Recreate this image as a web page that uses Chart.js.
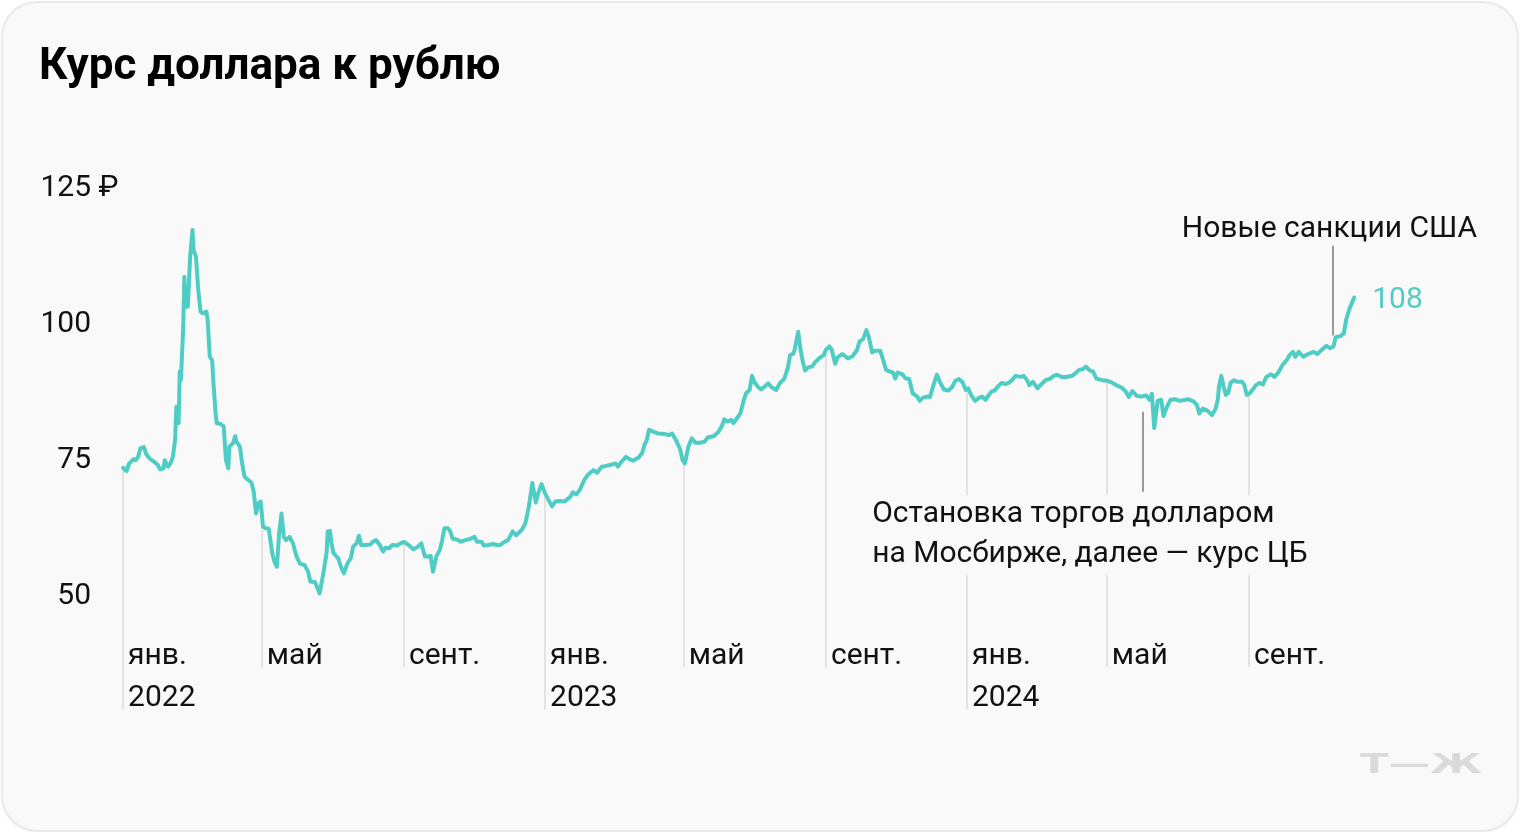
<!DOCTYPE html>
<html lang="ru">
<head>
<meta charset="utf-8">
<title>Курс доллара к рублю</title>
<script src="https://cdn.jsdelivr.net/npm/chart.js@4.4.1/dist/chart.umd.min.js"></script>
<style>
  html, body { margin: 0; padding: 0; background: #fff; }
  #card { position: absolute; left: 1px; top: 1px; width: 1514px; height: 827px;
          border: 2px solid #e9e9e9; border-radius: 36px; background: #f9f9f9; }
  #chart { position: absolute; left: 0; top: 0; }
  #logo { position: absolute; left: 1360px; top: 748px; font: bold 27px "DejaVu Sans";
          color: #dadada; transform: scaleX(1.55); transform-origin: left top; }
</style>
</head>
<body>
<div id="card"></div>
<canvas id="chart" width="1520" height="834"></canvas>
<div id="logo">Т—Ж</div>
<script>
// days: дней от 1 января 2022, rates: рублей за доллар
const days = [
  0, 3, 5, 9, 11, 13, 15, 18, 20, 23,
  27, 30, 32, 35, 36, 39, 41, 43, 45, 46,
  48, 49, 50, 52, 53, 54, 56, 58, 60,
  61, 63, 65, 67, 69, 72, 73, 75, 77, 78,
  80, 81, 84, 87, 89, 91, 92, 95, 97, 98,
  101, 103, 105, 108, 111, 113, 115, 117, 119, 121,
  123, 126, 129, 131, 133, 135, 137, 139, 141, 144,
  147, 150, 153, 157, 160, 162, 166, 170, 173, 176,
  177, 179, 180, 182, 186, 189, 191, 194, 197, 199,
  202, 204, 206, 209, 214, 216, 219, 222, 225, 227,
  230, 233, 237, 240, 243, 247, 251, 255, 258, 261,
  264, 266, 268, 271, 274, 276, 278, 281, 283, 285,
  290, 292, 296, 300, 304, 306, 310, 312, 316, 320,
  323, 326, 330, 333, 337, 340, 345, 348, 351, 354,
  357, 359, 362, 365, 368, 371, 374, 378, 382, 387,
  389, 392, 395, 399, 402, 407, 410, 414, 417, 421,
  426, 428, 431, 435, 438, 441, 446, 449, 451, 453,
  455, 459, 463, 469, 472, 475, 479, 482, 484, 486,
  489, 492, 495, 499, 503, 506, 511, 515, 518, 520,
  523, 526, 528, 531, 534, 537, 539, 542, 544, 546,
  549, 552, 558, 561, 565, 568, 572, 575, 577, 580,
  581, 584, 586, 588, 590, 593, 596, 599, 602, 606,
  608, 611, 613, 616, 618, 622, 624, 627, 631, 635,
  637, 640, 643, 645, 648, 650, 655, 658, 660, 663,
  666, 668, 670, 674, 677, 680, 683, 687, 689, 692,
  696, 698, 701, 704, 707, 710, 714, 717, 720, 723,
  726, 729, 731, 734, 737, 740, 743, 746, 748, 751,
  754, 757, 760, 763, 766, 769, 772, 776, 779, 782,
  784, 787, 791, 795, 798, 802, 805, 808, 812, 816,
  821, 824, 827, 830, 833, 836, 839, 842, 847, 851,
  855, 859, 864, 867, 870, 873, 877, 881, 885, 888,
  890, 892, 895, 898, 900, 903, 906, 910, 914, 919,
  921, 926, 929, 931, 934, 938, 942, 945, 947, 948,
  950, 952, 954, 956, 958, 961, 964, 968, 970, 972,
  974, 977, 980, 983, 986, 989, 993, 996, 999, 1003,
  1007, 1009, 1012, 1014, 1017, 1021, 1025, 1030, 1033, 1037,
  1041, 1044, 1047, 1049, 1053, 1056, 1058, 1061, 1065
];
const rates = [
  73.2, 72.6, 73.9, 74.8, 74.6, 75.2, 76.8, 77.0, 75.7, 74.9,
  74.3, 73.7, 72.9, 73.1, 74.6, 73.4, 74.0, 75.2, 78.3, 84.4,
  81.4, 90.9, 89.3, 99.1, 108.3, 102.8, 102.8, 112.0, 116.9,
  113.2, 112.0, 105.9, 101.9, 101.6, 101.9, 100.7, 93.6, 93.0, 89.3,
  83.2, 81.4, 81.3, 80.8, 74.6, 73.1, 77.1, 77.7, 79.0, 78.0,
  77.1, 74.0, 71.6, 71.0, 70.5, 68.8, 64.8, 66.7, 67.0, 62.4,
  62.1, 62.0, 57.5, 55.9, 55.0, 61.2, 64.8, 60.5, 59.9, 60.5,
  59.3, 56.9, 55.6, 55.3, 54.1, 52.3, 52.2, 50.1, 53.5, 57.5,
  61.5, 61.6, 59.6, 57.5, 56.6, 54.7, 53.8, 55.6, 56.6, 58.7,
  59.3, 60.7, 59.0, 59.0, 59.1, 59.6, 59.9, 59.0, 57.8, 58.5,
  58.4, 59.0, 58.9, 59.3, 59.6, 59.0, 58.2, 58.7, 59.3, 56.9,
  56.9, 57.0, 54.1, 56.9, 58.1, 59.9, 62.1, 62.1, 61.5, 60.2,
  59.9, 59.6, 59.9, 60.1, 60.5, 59.6, 59.6, 58.9, 59.0, 59.2,
  59.0, 59.0, 59.6, 59.9, 61.5, 60.8, 61.8, 63.0, 66.1, 70.4,
  66.8, 68.5, 70.2, 68.5, 67.3, 66.1, 67.0, 67.1, 67.0, 67.9,
  68.7, 68.3, 69.1, 71.0, 71.9, 72.8, 72.3, 73.4, 73.5, 73.7,
  74.0, 73.4, 74.3, 75.2, 74.8, 74.5, 75.1, 75.9, 77.4, 78.3,
  80.2, 79.8, 79.5, 79.4, 79.2, 79.5, 78.0, 76.5, 74.6, 74.0,
  77.1, 78.6, 77.8, 77.8, 78.0, 78.8, 79.0, 79.8, 80.9, 82.1,
  81.7, 82.0, 81.4, 82.3, 83.2, 85.7, 86.9, 87.5, 90.1, 89.0,
  88.1, 87.6, 88.7, 88.0, 87.5, 88.7, 89.6, 91.5, 93.9, 94.2,
  95.0, 98.2, 94.9, 92.7, 91.1, 91.7, 91.8, 92.7, 93.3, 93.9,
  94.9, 95.5, 94.9, 92.3, 93.5, 94.1, 93.8, 93.3, 93.7, 94.9,
  96.4, 96.8, 98.5, 97.3, 94.4, 94.7, 94.7, 92.7, 91.2, 90.9,
  90.7, 89.6, 90.7, 90.4, 89.6, 89.5, 86.9, 86.3, 85.5, 86.1,
  86.3, 86.2, 88.4, 90.3, 88.8, 87.6, 87.4, 88.0, 89.2, 89.5,
  89.0, 87.5, 87.8, 86.4, 85.5, 86.0, 86.3, 85.7, 86.3, 87.2,
  87.4, 88.2, 88.8, 88.6, 88.8, 89.3, 90.1, 89.9, 90.1, 89.3,
  88.4, 89.0, 87.8, 88.7, 89.3, 89.6, 90.1, 90.3, 89.9, 89.9,
  90.1, 90.6, 91.2, 91.3, 91.8, 91.1, 90.9, 89.6, 89.3, 89.2,
  88.9, 88.4, 87.9, 87.3, 86.2, 87.3, 86.4, 86.3, 86.5, 85.7,
  86.8, 80.5, 85.5, 85.7, 82.7, 84.4, 85.7, 85.8, 85.5, 85.7,
  85.8, 85.4, 84.7, 83.2, 84.1, 83.7, 82.9, 84.0, 85.7, 88.1,
  90.1, 88.1, 86.6, 87.0, 88.8, 89.3, 89.0, 89.0, 88.4, 86.6,
  86.8, 87.5, 88.4, 88.8, 88.5, 89.9, 90.4, 89.9, 90.6, 92.1,
  93.1, 93.9, 94.5, 93.6, 94.5, 93.6, 94.1, 94.5, 94.1, 94.9,
  95.6, 95.2, 95.5, 97.2, 97.4, 97.9, 100.4, 102.5, 104.5
];

const monthDays = [0, 120, 243, 365, 485, 608, 730, 851, 974];
const monthLabels = [['янв.', '2022'], ['май'], ['сент.'], ['янв.', '2023'], ['май'], ['сент.'],
                     ['янв.', '2024'], ['май'], ['сент.']];
const yTicks = [50, 75, 100, 125];
const yUnit = '₽';
const lastLabel = '108';

const sanctionsNote = { day: 1047, from: 114, to: 97.5, textAt: 117.6,
                        lines: ['Новые санкции США'] };
const moexNote = { day: 882, from: 83.5, to: 68.8, textDay: 648, textAt: 65.1,
                   lines: ['Остановка торгов долларом', 'на Мосбирже, далее — курс ЦБ'] };

const TEAL = '#4fcdc4';
const INK = '#111111';
const LABEL_SIZE = 30;
const X_LINE_HEIGHT = 1.42;
const X_PAD = 5;
const NOTE_LINE = 40;
const TEXT_SHIFT = 3;

Chart.defaults.font.family = 'Roboto';

function rateAt(day) {
    for (let i = 1; i < days.length; i++) {
        if (days[i] >= day) {
            const t = (day - days[i - 1]) / (days[i] - days[i - 1]);
            return rates[i - 1] + t * (rates[i] - rates[i - 1]);
        }
    }
    return rates[rates.length - 1];
}

const decor = {
    id: 'decor',
    beforeDatasetsDraw(chart) {
        const ctx = chart.ctx, x = chart.scales.x, y = chart.scales.y;
        const lh = LABEL_SIZE * X_LINE_HEIGHT;
        const labelTop = chart.chartArea.bottom + X_PAD;
        ctx.save();
        ctx.strokeStyle = '#e2e2e2';
        ctx.lineWidth = 2;
        monthDays.forEach((d, i) => {
            const px = Math.round(x.getPixelForValue(d));
            const top = y.getPixelForValue(rateAt(d));
            const bottom = labelTop + (monthLabels[i].length - 0.5) * lh + LABEL_SIZE * 0.35;
            ctx.beginPath();
            ctx.moveTo(px, top);
            ctx.lineTo(px, bottom);
            ctx.stroke();
        });
        // фон под подписью, чтобы разорвать линии месяцев
        ctx.font = LABEL_SIZE + 'px Roboto';
        const tx = x.getPixelForValue(moexNote.textDay);
        const ty = y.getPixelForValue(moexNote.textAt) + TEXT_SHIFT;
        const w = Math.max(...moexNote.lines.map(l => ctx.measureText(l).width));
        ctx.fillStyle = '#f9f9f9';
        ctx.fillRect(tx - 10, ty - NOTE_LINE / 2, w + 20, NOTE_LINE * moexNote.lines.length);
        ctx.restore();
    },
    afterDraw(chart) {
        const ctx = chart.ctx, x = chart.scales.x, y = chart.scales.y;
        ctx.save();
        ctx.font = LABEL_SIZE + 'px Roboto';
        ctx.textBaseline = 'middle';

        // знак рубля у верхнего деления
        ctx.fillStyle = INK;
        ctx.textAlign = 'left';
        const top = yTicks[yTicks.length - 1];
        ctx.fillText(' ' + yUnit, y.right - y.options.ticks.padding,
                     y.getPixelForValue(top) + TEXT_SHIFT);

        // линии выносок
        ctx.strokeStyle = '#999999';
        ctx.lineWidth = 2;
        [sanctionsNote, moexNote].forEach(n => {
            const px = Math.round(x.getPixelForValue(n.day));
            ctx.beginPath();
            ctx.moveTo(px, y.getPixelForValue(n.from));
            ctx.lineTo(px, y.getPixelForValue(n.to));
            ctx.stroke();
        });

        ctx.textAlign = 'center';
        sanctionsNote.lines.forEach((l, i) => {
            ctx.fillText(l, x.getPixelForValue(sanctionsNote.day) - 4,
                         y.getPixelForValue(sanctionsNote.textAt) + TEXT_SHIFT + i * NOTE_LINE);
        });
        ctx.textAlign = 'left';
        moexNote.lines.forEach((l, i) => {
            ctx.fillText(l, x.getPixelForValue(moexNote.textDay),
                         y.getPixelForValue(moexNote.textAt) + TEXT_SHIFT + i * NOTE_LINE);
        });

        // последнее значение
        const last = days.length - 1;
        ctx.fillStyle = TEAL;
        ctx.fillText(lastLabel, x.getPixelForValue(days[last]) + 18,
                     y.getPixelForValue(rates[last]) + TEXT_SHIFT);
        ctx.restore();
    }
};

new Chart(document.getElementById('chart').getContext('2d'), {
    type: 'line',
    data: {
        datasets: [{
            data: days.map((d, i) => ({ x: d, y: rates[i] })),
            borderColor: TEAL,
            borderWidth: 4,
            borderJoinStyle: 'round',
            borderCapStyle: 'round',
            pointRadius: 0,
            tension: 0,
            fill: false,
            clip: false
        }]
    },
    options: {
        responsive: false,
        animation: false,
        devicePixelRatio: 1,
        layout: { padding: { top: 24, left: 39, right: 160, bottom: 114 } },
        plugins: {
            legend: { display: false },
            tooltip: { enabled: false },
            title: {
                display: true,
                text: 'Курс доллара к рублю',
                align: 'start',
                color: '#000',
                font: { family: 'Roboto', size: 44, weight: 'bold', lineHeight: 1.2 },
                padding: { top: 18, bottom: 34 }
            }
        },
        scales: {
            x: {
                type: 'linear',
                min: -3.55,
                max: 1070,
                grid: { display: false, drawTicks: false },
                border: { display: false },
                afterBuildTicks: s => { s.ticks = monthDays.map(v => ({ value: v })); },
                afterFit: s => { s.height = 90; },
                ticks: {
                    autoSkip: false,
                    maxRotation: 0,
                    minRotation: 0,
                    align: 'start',
                    labelOffset: 5,
                    padding: X_PAD,
                    color: INK,
                    font: { size: LABEL_SIZE, lineHeight: X_LINE_HEIGHT },
                    callback: (v, i) => monthLabels[i]
                }
            },
            y: {
                min: 43.38,
                max: 135.51,
                grid: { display: false, drawTicks: false },
                border: { display: false },
                afterBuildTicks: s => { s.ticks = yTicks.map(v => ({ value: v })); },
                afterFit: s => { s.width = 80; },
                ticks: {
                    padding: 28,
                    labelOffset: TEXT_SHIFT,
                    color: INK,
                    font: { size: LABEL_SIZE },
                    callback: v => String(v)
                }
            }
        }
    },
    plugins: [decor]
});
</script>
</body>
</html>
